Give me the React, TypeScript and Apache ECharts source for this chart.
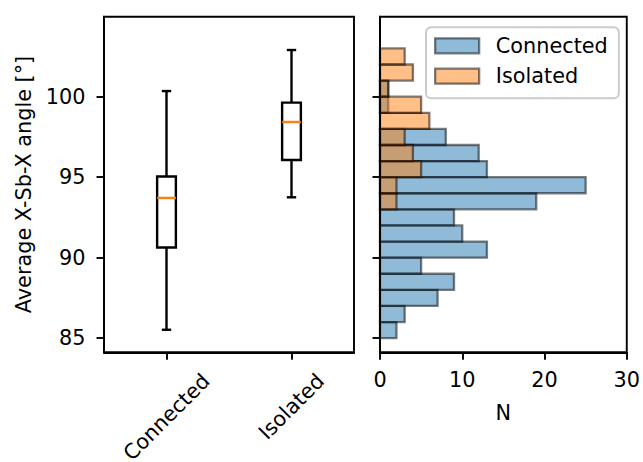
import React, { useEffect, useRef } from 'react';
import * as echarts from 'echarts';

// ---- data ----
const categories = ['Connected', 'Isolated'];
const whiskerLow = [85.52, 93.75];
const quartile1 = [90.63, 96.07];
const medians = [93.71, 98.43];
const quartile3 = [95.04, 99.63];
const whiskerHigh = [100.35, 102.9];

const binStarts = [85, 86, 87, 88, 89, 90, 91, 92, 93, 94, 95, 96, 97, 98, 99, 100, 101, 102, 103];
const connectedCounts = [2, 3, 7, 9, 5, 13, 10, 9, 19, 25, 13, 12, 8, 0, 1, 1, 0, 0, 0];
const isolatedCounts = [0, 0, 0, 0, 0, 0, 0, 0, 2, 2, 5, 4, 3, 6, 5, 1, 4, 3, 0];

const angleTicks = [85, 90, 95, 100];
const countTicks = [0, 10, 20, 30];

const yLabel = 'Average X-Sb-X angle [°]';
const xLabelRight = 'N';

// ---- style ----
const FONT = 'DejaVu Sans';
const FS = 20.8;
const SPINE = 1.9;
const LW = 2.4;
const BLUE_FILL = 'rgba(31,119,180,0.5)';
const ORANGE_FILL = 'rgba(255,127,14,0.5)';
const EDGE = 'rgba(0,0,0,0.5)';
const Y_MIN = 84.12;
const Y_MAX = 104.97;

function histSeries(name: string, counts: number[], fill: string) {
  return {
    type: 'custom',
    name,
    xAxisIndex: 1,
    yAxisIndex: 1,
    z: 2,
    encode: { x: 0, y: 1 },
    data: binStarts.map((s, i) => [counts[i], s]),
    renderItem: (params: any, api: any) => {
      const count = api.value(0);
      const start = api.value(1);
      if (!count) return null;
      const p0 = api.coord([0, start + 1]);
      const p1 = api.coord([count, start]);
      return {
        type: 'rect',
        shape: { x: p0[0], y: p0[1], width: p1[0] - p0[0], height: p1[1] - p0[1] },
        style: { fill, stroke: EDGE, lineWidth: 2.3 },
      };
    },
  };
}

export default function App() {
  const ref = useRef<HTMLDivElement>(null);
  useEffect(() => {
    const chart = echarts.init(ref.current!, null, { renderer: 'svg' });
    const axisCommon = {
      z: 5,
      axisLine: { show: true, onZero: false, lineStyle: { color: '#000', width: SPINE } },
      axisTick: { show: true, length: 7.5, lineStyle: { color: '#000', width: SPINE } },
      splitLine: { show: false },
    };
    const option: any = {
      animation: false,
      backgroundColor: '#fff',
      textStyle: { fontFamily: FONT },
      grid: [
        { left: 104, top: 16.7, width: 250, height: 335.6, show: true, borderColor: '#000', borderWidth: SPINE, backgroundColor: 'transparent' },
        { left: 380, top: 16.7, width: 249, height: 335.6, show: true, borderColor: '#000', borderWidth: SPINE, backgroundColor: 'transparent' },
      ],
      xAxis: [
        {
          ...axisCommon,
          type: 'category',
          gridIndex: 0,
          data: categories,
          boundaryGap: true,
          axisTick: { ...axisCommon.axisTick, alignWithLabel: true },
          axisLabel: { show: false },
        },
        {
          ...axisCommon,
          type: 'value',
          gridIndex: 1,
          min: countTicks[0],
          max: countTicks[countTicks.length - 1],
          interval: countTicks[1] - countTicks[0],
          name: xLabelRight,
          nameLocation: 'middle',
          nameGap: 50,
          nameTextStyle: { fontFamily: FONT, fontSize: FS, color: '#000' },
          axisLabel: { fontFamily: FONT, fontSize: FS, color: '#000', margin: 17 },
        },
      ],
      yAxis: [
        {
          ...axisCommon,
          type: 'value',
          gridIndex: 0,
          min: Y_MIN,
          max: Y_MAX,
          name: yLabel,
          nameLocation: 'middle',
          nameGap: 70,
          nameTextStyle: { fontFamily: FONT, fontSize: FS, color: '#000' },
          axisTick: { ...axisCommon.axisTick, customValues: angleTicks },
          axisLabel: { fontFamily: FONT, fontSize: FS, color: '#000', margin: 18.5, customValues: angleTicks },
        },
        {
          ...axisCommon,
          type: 'value',
          gridIndex: 1,
          min: Y_MIN,
          max: Y_MAX,
          axisTick: { ...axisCommon.axisTick, customValues: angleTicks },
          axisLabel: { show: false },
        },
      ],
      legend: {
        show: true,
        orient: 'vertical',
        left: 426,
        top: 27.3,
        selectedMode: false,
        backgroundColor: 'rgba(255,255,255,0.8)',
        borderColor: '#cccccc',
        borderWidth: 2,
        borderRadius: 5,
        padding: [6.5, 11, 10, 8],
        itemWidth: 44,
        itemHeight: 15,
        itemGap: 6.4,
        textStyle: { fontFamily: FONT, fontSize: FS, color: '#000', lineHeight: 24, padding: [0, 0, 0, 11.7] },
        data: [
          { name: 'Connected', icon: 'rect', itemStyle: { color: BLUE_FILL, borderColor: EDGE, borderWidth: 2.3 } },
          { name: 'Isolated', icon: 'rect', itemStyle: { color: ORANGE_FILL, borderColor: EDGE, borderWidth: 2.3 } },
        ],
      },
      series: [
        {
          type: 'custom',
          name: 'box',
          xAxisIndex: 0,
          yAxisIndex: 0,
          z: 2,
          encode: { x: 0, y: [1, 2, 3, 4, 5] },
          data: categories.map((c, i) => [i, whiskerLow[i], quartile1[i], medians[i], quartile3[i], whiskerHigh[i]]),
          renderItem: (params: any, api: any) => {
            const idx = api.value(0);
            const band = api.size([1, 0])[0];
            const half = band * 0.075;
            const capHalf = half / 2;
            const pLow = api.coord([idx, api.value(1)]);
            const pQ1 = api.coord([idx, api.value(2)]);
            const pMed = api.coord([idx, api.value(3)]);
            const pQ3 = api.coord([idx, api.value(4)]);
            const pHigh = api.coord([idx, api.value(5)]);
            const cx = pMed[0];
            const black = { stroke: '#000', lineWidth: LW, fill: 'none' };
            return {
              type: 'group',
              children: [
                { type: 'line', shape: { x1: cx, y1: pQ1[1], x2: cx, y2: pLow[1] }, style: black },
                { type: 'line', shape: { x1: cx, y1: pQ3[1], x2: cx, y2: pHigh[1] }, style: black },
                { type: 'line', shape: { x1: cx - capHalf, y1: pLow[1], x2: cx + capHalf, y2: pLow[1] }, style: black },
                { type: 'line', shape: { x1: cx - capHalf, y1: pHigh[1], x2: cx + capHalf, y2: pHigh[1] }, style: black },
                { type: 'rect', shape: { x: cx - half, y: pQ3[1], width: 2 * half, height: pQ1[1] - pQ3[1] }, style: black },
                { type: 'line', shape: { x1: cx - half, y1: pMed[1], x2: cx + half, y2: pMed[1] }, style: { stroke: '#ff7f0e', lineWidth: LW } },
              ],
            };
          },
        },
        histSeries('Connected', connectedCounts, BLUE_FILL),
        histSeries('Isolated', isolatedCounts, ORANGE_FILL),
      ],
    };
    chart.setOption(option);

    // rotated category labels, centred under their ticks (45°)
    const ctx = document.createElement('canvas').getContext('2d')!;
    ctx.font = `${FS}px "${FONT}"`;
    const labelTop = 369;
    const graphics = categories.map((c) => {
      const x = chart.convertToPixel({ xAxisIndex: 0 }, c) as unknown as number;
      const w = ctx.measureText(c).width;
      const H = (w + FS * 1.164) * Math.SQRT1_2;
      return {
        type: 'text',
        x,
        y: labelTop + H / 2,
        rotation: Math.PI / 4,
        style: {
          text: c,
          fontFamily: FONT,
          fontSize: FS,
          fill: '#000',
          align: 'center',
          verticalAlign: 'middle',
        },
      };
    });
    chart.setOption({ graphic: graphics });

    return () => chart.dispose();
  }, []);
  return <div ref={ref} style={{ position: 'fixed', left: 0, top: 0, width: 643, height: 462 }} />;
}
